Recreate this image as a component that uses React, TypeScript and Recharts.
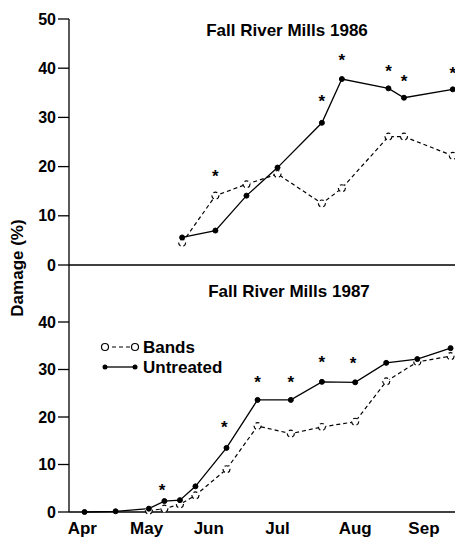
import { ComposedChart, Line, Scatter, XAxis, YAxis, ReferenceLine, Legend } from 'recharts';

// x values are day of year
const monthTicks = [106, 135, 163, 194, 229, 260];
const monthLabels = ['Apr', 'May', 'Jun', 'Jul', 'Aug', 'Sep'];

// 1986
const days1986 = [151, 166, 180, 194, 214, 223, 244, 251, 273];
const untreated1986 = [5.6, 7.0, 14.1, 19.8, 28.9, 37.8, 35.9, 34.0, 35.7];
const bands1986 = [4.5, 14.1, 16.4, 18.5, 12.5, 15.6, 26.1, 26.1, 22.2];
const starDays1986 = [166, 214, 223, 244, 251, 273];
const starValues1986 = [18.7, 33.9, 42.3, 40.1, 38.1, 39.6];

// 1987
const untreatedDays1987 = [107, 121, 136, 143, 150, 157, 171, 185, 200, 214, 229, 243, 257, 272];
const untreated1987 = [0, 0.15, 0.7, 2.3, 2.5, 5.4, 13.5, 23.6, 23.6, 27.4, 27.3, 31.4, 32.2, 34.5];
const bandsDays1987 = [136, 143, 150, 157, 171, 185, 200, 214, 229, 243, 257, 272];
const bands1987 = [0.3, 0.7, 1.6, 3.5, 9.0, 18.1, 16.5, 17.9, 19.0, 27.5, 31.6, 32.8];
const starDays1987 = [142, 170, 185, 200, 214, 228];
const starValues1987 = [5.3, 18.5, 28.1, 28.1, 32.2, 32.0];

const FONT = '"Liberation Sans", Arial, Helvetica, sans-serif';

const toPoints = (days: number[], vals: number[]) => days.map((day, i) => ({ day, v: vals[i] }));

const Star = (props: any) => {
  const { cx, cy } = props;
  return (
    <text x={cx} y={cy + 9} textAnchor="middle" fontSize={17} fontWeight="bold" fontFamily={FONT} fill="#000">
      *
    </text>
  );
};

const untreatedDot = { r: 2.5, fill: '#000', stroke: '#000', strokeWidth: 1 };
const bandsDot = { r: 3.5, fill: '#fff', stroke: '#000', strokeWidth: 1.2 };

const tickStyle = { fontSize: 16, fontWeight: 'bold', fill: '#000', fontFamily: FONT };

const renderLegend = () => (
  <svg width={150} height={42}>
    <line x1={5} y1={10} x2={35} y2={10} stroke="#000" strokeWidth={1.2} strokeDasharray="4 3" />
    <circle cx={5} cy={10} r={3.5} fill="#fff" stroke="#000" strokeWidth={1.2} />
    <circle cx={35} cy={10} r={3.5} fill="#fff" stroke="#000" strokeWidth={1.2} />
    <text x={43} y={10} dominantBaseline="central" fontSize={17} fontWeight="bold" fontFamily={FONT}>Bands</text>
    <line x1={5} y1={30} x2={35} y2={30} stroke="#000" strokeWidth={1.3} />
    <circle cx={5} cy={30} r={2.5} fill="#000" />
    <circle cx={35} cy={30} r={2.5} fill="#000" />
    <text x={43} y={30} dominantBaseline="central" fontSize={17} fontWeight="bold" fontFamily={FONT}>Untreated</text>
  </svg>
);

const titleStyle: React.CSSProperties = {
  position: 'absolute',
  transform: 'translate(-50%, -50%)',
  fontFamily: FONT,
  fontWeight: 'bold',
  fontSize: 17,
  whiteSpace: 'nowrap',
};

export default function App() {
  return (
    <div style={{ position: 'absolute', left: 0, top: 0, width: 455, height: 538, background: '#fff' }}>
      <div style={{ position: 'absolute', left: 0, top: 0 }}>
        <ComposedChart width={455} height={285} margin={{ top: 19, right: 0, bottom: 20, left: 0 }}>
          <XAxis type="number" dataKey="day" domain={[100, 274]} hide />
          <YAxis
            type="number"
            domain={[0, 50]}
            ticks={[0, 10, 20, 30, 40, 50]}
            interval={0}
            width={69}
            tickSize={11}
            tickMargin={2}
            axisLine={{ stroke: '#000', strokeWidth: 1.3 }}
            tickLine={{ stroke: '#000', strokeWidth: 1.3 }}
            tick={tickStyle}
          />
          <ReferenceLine y={0} stroke="#000" strokeWidth={1.6} />
          <Line
            data={toPoints(days1986, bands1986)}
            dataKey="v"
            name="Bands"
            stroke="#000"
            strokeWidth={1.2}
            strokeDasharray="4 3"
            dot={bandsDot}
            isAnimationActive={false}
          />
          <Line
            data={toPoints(days1986, untreated1986)}
            dataKey="v"
            name="Untreated"
            stroke="#000"
            strokeWidth={1.3}
            dot={untreatedDot}
            isAnimationActive={false}
          />
          <Scatter data={toPoints(starDays1986, starValues1986)} dataKey="v" shape={Star} legendType="none" isAnimationActive={false} />
        </ComposedChart>
      </div>
      <div style={{ position: 'absolute', left: 0, top: 265 }}>
        <ComposedChart width={455} height={273} margin={{ top: 0, right: 0, bottom: 0, left: 0 }}>
          <XAxis
            type="number"
            dataKey="day"
            domain={[100, 274]}
            ticks={monthTicks}
            interval={0}
            tickFormatter={(d: number) => monthLabels[monthTicks.indexOf(d)]}
            height={26}
            tickLine={false}
            tickMargin={4}
            axisLine={{ stroke: '#000', strokeWidth: 1.6 }}
            tick={{ ...tickStyle, fontSize: 17 }}
          />
          <YAxis
            type="number"
            domain={[0, 52]}
            ticks={[0, 10, 20, 30, 40]}
            interval={0}
            width={69}
            tickSize={11}
            tickMargin={2}
            axisLine={{ stroke: '#000', strokeWidth: 1.3 }}
            tickLine={{ stroke: '#000', strokeWidth: 1.3 }}
            tick={tickStyle}
          />
          <Legend
            layout="vertical"
            align="center"
            verticalAlign="middle"
            content={renderLegend}
            wrapperStyle={{ position: 'absolute', left: 100, top: 72, width: 150 }}
          />
          <Line
            data={toPoints(bandsDays1987, bands1987)}
            dataKey="v"
            name="Bands"
            stroke="#000"
            strokeWidth={1.2}
            strokeDasharray="4 3"
            dot={bandsDot}
            isAnimationActive={false}
          />
          <Line
            data={toPoints(untreatedDays1987, untreated1987)}
            dataKey="v"
            name="Untreated"
            stroke="#000"
            strokeWidth={1.3}
            dot={untreatedDot}
            isAnimationActive={false}
          />
          <Scatter data={toPoints(starDays1987, starValues1987)} dataKey="v" shape={Star} legendType="none" isAnimationActive={false} />
        </ComposedChart>
      </div>
      <div style={{ ...titleStyle, left: 287, top: 31 }}>Fall River Mills 1986</div>
      <div style={{ ...titleStyle, left: 289, top: 292 }}>Fall River Mills 1987</div>
      <div style={{ ...titleStyle, left: 18, top: 268, transform: 'translate(-50%, -50%) rotate(-90deg)' }}>Damage (%)</div>
    </div>
  );
}
